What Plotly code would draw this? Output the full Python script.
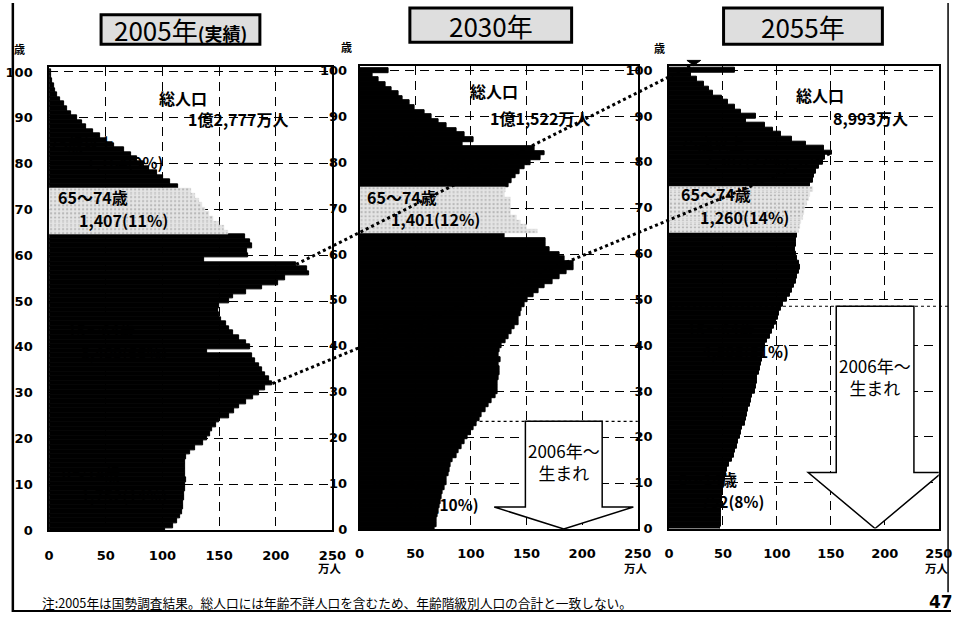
import plotly.graph_objects as go

# ---------------- data (万人, single-year ages; age 100 = 100歳以上) ----------------
years = [2005, 2030, 2055]
year_titles = ["2005年", "2030年", "2055年"]
title_notes = ["(実績)", "", ""]
total_pop = [12777, 11522, 8993]          # 総人口 (2005 includes age-unknown)
ages = list(range(101))

pop_2005 = [102, 109, 113, 116, 117, 118, 118, 119, 119, 120,
            120, 121, 120, 120, 120, 120, 121, 124, 129, 136,
            139, 142, 144, 147, 150, 159, 163, 168, 174, 180,
            185, 191, 197, 194, 191, 188, 185, 182, 179, 139,
            177, 174, 168, 162, 159, 156, 152, 150, 149, 150,
            159, 162, 174, 188, 202, 208, 229, 228, 218, 137,
            176, 175, 179, 177, 173, 158, 154, 150, 145, 141,
            138, 135, 132, 129, 125, 114, 107, 101, 95, 88,
            84, 78, 72, 66, 57, 50, 45, 39, 33, 29,
            25, 19, 16, 13, 10, 7, 5, 4, 3, 2,
            2]
pop_2030 = [67, 69, 69, 70, 71, 72, 73, 74, 75, 76,
            78, 78, 80, 81, 82, 84, 87, 89, 92, 94,
            97, 100, 102, 105, 108, 110, 113, 116, 119, 122,
            124, 124, 124, 125, 126, 126, 125, 127, 125, 126,
            128, 131, 134, 137, 139, 143, 143, 145, 146, 148,
            151, 156, 161, 166, 173, 180, 186, 192, 192, 184,
            180, 171, 167, 167, 130, 160, 150, 145, 141, 136,
            136, 136, 136, 130, 131, 134, 137, 140, 144, 148,
            154, 163, 166, 157, 93, 102, 94, 87, 78, 71,
            65, 58, 49, 45, 39, 35, 29, 23, 17, 12,
            26]
pop_2055 = [47, 48, 48, 48, 48, 49, 49, 49, 50, 50,
            51, 52, 53, 54, 56, 58, 60, 61, 63, 64,
            66, 67, 68, 70, 71, 72, 73, 75, 76, 77,
            80, 81, 82, 82, 83, 84, 85, 86, 87, 88,
            89, 91, 94, 95, 97, 99, 101, 102, 104, 106,
            109, 112, 114, 116, 118, 119, 120, 121, 120, 119,
            118, 117, 118, 118, 119, 120, 121, 122, 124, 125,
            126, 128, 130, 131, 133, 131, 133, 134, 136, 139,
            143, 145, 151, 144, 127, 114, 104, 96, 89, 71,
            81, 67, 61, 55, 49, 41, 37, 32, 26, 20,
            61]
populations = [pop_2005, pop_2030, pop_2055]

age_groups = [("0～14歳", 0, 14), ("15～64歳", 15, 64), ("65～74歳", 65, 74), ("75歳以上", 75, 100)]
x_ticks = [0, 50, 100, 150, 200, 250]
y_ticks = list(range(0, 101, 10))
footnote = "注:2005年は国勢調査結果。総人口には年齢不詳人口を含むため、年齢階級別人口の合計と一致しない。"
page_no = "47"
birth_label = "2006年～<br>生まれ"

# ---------------- layout geometry ----------------
W, H = 965, 620
X_MAX, Y_MAX = 250, 101
PX_YEAR = 4.665
CJK = "Noto Sans CJK JP"
NUM = "DejaVu Sans"
# plot-area frame per panel: left px, right px, px row of age 0
frames = [(45.0, 334.0, 536.7), (361.7, 645.5, 535.5), (677.3, 952.5, 535.0)]
y_label_gap = [12, 8, 12]
title_boxes = [(98, 12, 260, 42), (413, 5, 578, 40), (733, 5, 895, 42)]
sai_pos = [(15, 47), (348, 45), (668, 46)]

# label anchors in data units: (name line, value line) per age group
group_label_pos = [
    [((37, 12.0), (66, 7.2)), ((46, 43.2), (66, 38.3)), ((39, 72.7), (66, 67.7)), ((29, 84.0), (66.6, 79.8))],
    [((38, 9.8), (68, 5.0)), ((42, 43.0), (66, 38.3)), ((38, 72.4), (68, 67.7)), ((36, 84.8), (70, 79.2))],
    [((36, 10.3), (59, 5.4)), ((48, 42.9), (71, 38.3)), ((44, 72.9), (70, 67.9)), ((40, 83.6), (72, 79.7))],
]
total_label_pos = [((118.5, 94.4), (167, 89.8)), ((121, 95.5), (162, 89.7)), ((140, 94.7), (187, 89.6))]

# "born 2006 or later" arrows (panels 2030 / 2055): center, shaft half-width, head half-width, head base age
arrows = {1: dict(c=183.5, shaft=34.5, head=62.5, base=4.8, text_age=14.8),
          2: dict(c=191.0, shaft=36.0, head=62.0, base=12.2, text_age=33.2)}


def pxp(x, y):
    """pixel position -> paper coordinates"""
    return x / W, 1 - y / H


def to_paper(i, v, age):
    l, r, b = frames[i]
    return pxp(l + (r - l) * v / X_MAX, b - age * PX_YEAR)


def axis_ids(i):
    s = "" if i == 0 else str(i + 1)
    return "x" + s, "y" + s, s


def font(size, bold=True, color="black", family=CJK):
    return dict(family=family, size=size, color=color, weight="bold" if bold else "normal")


def oku_man(t):
    return f"{t // 10000}億{t % 10000:,}万人" if t >= 10000 else f"{t:,}万人"


fig = go.Figure()
annotations = []
shapes = []


def under_label(text, x, y, xa, ya):
    """text placed beneath the bars: only the part outside the bars stays visible"""
    shapes.append(dict(type="rect", xref=xa, yref=ya, x0=x - 0.5, x1=x + 0.5,
                       y0=y - 0.1, y1=y + 0.1, line=dict(width=0),
                       fillcolor="rgba(0,0,0,0)", layer="below",
                       label=dict(text=text, font=font(15.5), textposition="middle center")))


for i, pop in enumerate(populations):
    xa, ya, s = axis_ids(i)
    l, r, b = frames[i]
    dark = [a for a in ages if not 65 <= a <= 74]
    mid = [a for a in ages if 65 <= a <= 74]
    fig.add_trace(go.Bar(
        x=[pop[a] for a in dark], y=dark, orientation="h", width=1,
        marker=dict(color="black", line=dict(color="black", width=1.0)),
        xaxis=xa, yaxis=ya, showlegend=False, hoverinfo="skip"))
    fig.add_trace(go.Bar(
        x=[pop[a] for a in mid], y=mid, orientation="h", width=1,
        marker=dict(color="#e4e4e4", line=dict(color="#e4e4e4", width=0.5),
                    pattern=dict(shape=".", fgcolor="#858585", size=4, solidity=0.25)),
        xaxis=xa, yaxis=ya, showlegend=False, hoverinfo="skip"))

    grid = dict(showgrid=True, gridcolor="black", gridwidth=1.2, griddash="9px,6px",
                showline=True, linecolor="black", linewidth=1.6, mirror=True,
                zeroline=False, ticks="", fixedrange=True,
                tickfont=font(13, family=NUM))
    fig.update_layout({
        "xaxis" + s: dict(domain=[l / W, r / W], anchor=ya, range=[0, X_MAX],
                          tickvals=x_ticks, ticklabelstandoff=12, **grid),
        "yaxis" + s: dict(domain=[1 - b / H, 1 - (b - Y_MAX * PX_YEAR) / H], anchor=xa,
                          range=[0, Y_MAX], tickvals=y_ticks,
                          ticklabelstandoff=y_label_gap[i], **grid),
    })

    # title box
    x0, y0, x1, y1 = title_boxes[i]
    px0, py0 = pxp(x0, y0)
    px1, py1 = pxp(x1, y1)
    shapes.append(dict(type="rect", xref="paper", yref="paper", x0=px0, y0=py1, x1=px1, y1=py0,
                       line=dict(color="black", width=3), fillcolor="#dedede", layer="above"))
    title = year_titles[i]
    if title_notes[i]:
        title += f"<span style='font-size:18px;font-weight:bold'>{title_notes[i]}</span>"
    cx, cy = pxp((x0 + x1) / 2, (y0 + y1) / 2)
    annotations.append(dict(text=title, x=cx, y=cy, xref="paper", yref="paper", showarrow=False,
                            font=font(26, bold=False), xanchor="center", yanchor="middle"))

    # axis unit labels
    sx, sy = pxp(*sai_pos[i])
    annotations.append(dict(text="歳", x=sx, y=sy, xref="paper", yref="paper", showarrow=False,
                            font=font(11), xanchor="center", yanchor="middle"))
    ux, uy = pxp(r - 2, 575)
    annotations.append(dict(text="万人", x=ux, y=uy, xref="paper", yref="paper", showarrow=False,
                            font=font(11.5), xanchor="center", yanchor="middle"))

    # total population
    (tx1, ty1), (tx2, ty2) = total_label_pos[i]
    annotations.append(dict(text="総人口", x=tx1, y=ty1, xref=xa, yref=ya, showarrow=False,
                            font=font(16), xanchor="center", yanchor="middle"))
    annotations.append(dict(text=oku_man(total_pop[i]), x=tx2, y=ty2, xref=xa, yref=ya,
                            showarrow=False, font=font(16), xanchor="center", yanchor="middle"))

    # age-group labels
    for g, (name, a0, a1) in enumerate(age_groups):
        total = sum(pop[a0:a1 + 1])
        share = round(100 * total / total_pop[i])
        (nx, ny), (vx, vy) = group_label_pos[i][g]
        value_text = f"{total:,}({share}%)"
        if name == "65～74歳":
            for t, x, y in [(name, nx, ny), (value_text, vx, vy)]:
                annotations.append(dict(text=t, x=x, y=y, xref=xa, yref=ya, showarrow=False,
                                        font=font(16), xanchor="center", yanchor="middle"))
        else:
            under_label(name, nx, ny, xa, ya)
            under_label(value_text, vx, vy, xa, ya)

    # cohorts born 2006 or later
    if i in arrows:
        a = arrows[i]
        top = years[i] - 2006 - 0.5
        c = a["c"]
        path = (f"M {c - a['shaft']},{top} L {c - a['shaft']},{a['base']} L {c - a['head']},{a['base']} "
                f"L {c},0 L {c + a['head']},{a['base']} L {c + a['shaft']},{a['base']} "
                f"L {c + a['shaft']},{top} Z")
        shapes.append(dict(type="path", xref=xa, yref=ya, path=path, fillcolor="white",
                           line=dict(color="black", width=1.5), layer="above"))
        shapes.append(dict(type="line", xref="paper", yref=ya, x0=l / W,
                           x1=(1.0 if i == 2 else r / W), y0=top, y1=top,
                           line=dict(color="black", width=1.2, dash="3px,3px"), layer="above"))
        annotations.append(dict(text=birth_label, x=c, y=a["text_age"], xref=xa, yref=ya,
                                showarrow=False, font=font(17, bold=False),
                                xanchor="center", yanchor="middle"))

# cohort guides: baby-boom generations followed across panels
ax0, ay0 = to_paper(0, pop_2005[58], 58)
ax1, ay1 = to_paper(2, 23, 101.3)
bx0, by0 = to_paper(0, pop_2005[32], 32)
bx1, by1 = to_paper(2, pop_2055[82], 82)
for (x0, y0, x1, y1) in [(ax0, ay0, ax1, ay1), (bx0, by0, bx1, by1)]:
    shapes.append(dict(type="line", xref="paper", yref="paper", x0=x0, y0=y0, x1=x1, y1=y1,
                       line=dict(color="black", width=3, dash="dot"), layer="above"))
tip_x, tip_y = ax1 * W, (1 - ay1) * H
tri = [pxp(tip_x - 7, tip_y - 4), pxp(tip_x + 7, tip_y - 4), pxp(tip_x, tip_y + 1)]
shapes.append(dict(type="path", xref="paper", yref="paper",
                   path="M {} {} L {} {} L {} {} Z".format(*[c for p in tri for c in p]),
                   fillcolor="black", line=dict(color="black", width=1), layer="above"))

# page frame
for (x0, y0, x1, y1, w) in [(8, 0, 8, 620, 2.5), (8, 619, 965, 619, 2.0), (962, 0, 962, 600, 1.5)]:
    p0 = pxp(x0, y0)
    p1 = pxp(x1, y1)
    shapes.append(dict(type="line", xref="paper", yref="paper", x0=p0[0], y0=p0[1],
                       x1=p1[0], y1=p1[1], line=dict(color="black", width=w), layer="above"))

fx, fy = pxp(36, 610)
annotations.append(dict(text=footnote, x=fx, y=fy, xref="paper", yref="paper", showarrow=False,
                        font=font(12.7, bold=False), xanchor="left", yanchor="middle"))
nx_, ny_ = pxp(955, 610)
annotations.append(dict(text=page_no, x=nx_, y=ny_, xref="paper", yref="paper", showarrow=False,
                        font=font(17, family=NUM), xanchor="center", yanchor="middle"))

fig.update_layout(
    width=W, height=H, autosize=False,
    margin=dict(l=0, r=0, t=0, b=0),
    paper_bgcolor="white", plot_bgcolor="white",
    barmode="overlay", bargap=0,
    hovermode=False,
    annotations=annotations, shapes=shapes,
    font=dict(family=CJK, color="black"),
)

fig.write_html("out.html")
